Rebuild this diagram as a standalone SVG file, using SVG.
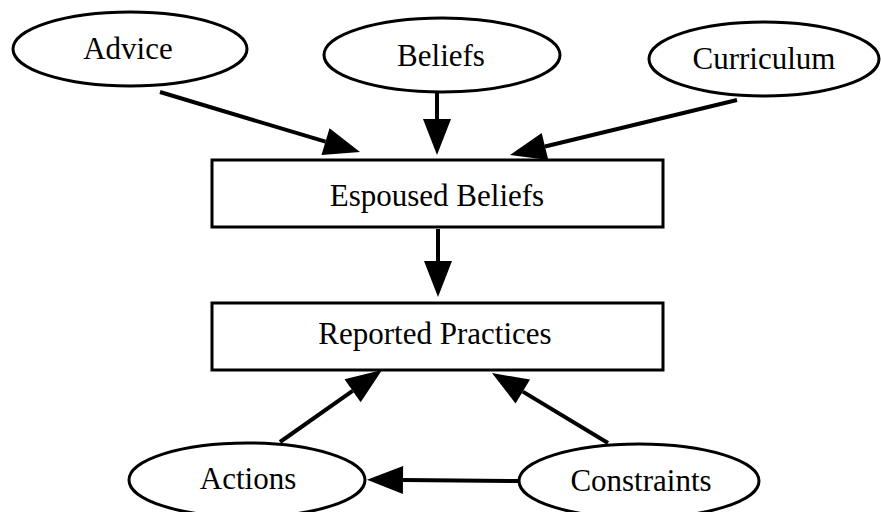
<svg xmlns="http://www.w3.org/2000/svg" width="881" height="512" viewBox="0 0 881 512">
<defs>
<style>
.node{fill:#fff;stroke:#000;stroke-width:3}
.lbl{font-family:"Liberation Serif","Times New Roman",serif;font-size:31px;fill:#000;text-anchor:middle}
.conn{stroke:#000;stroke-width:4;fill:none}
</style>
<marker id="ah" markerUnits="userSpaceOnUse" markerWidth="36" markerHeight="28" refX="0" refY="14" orient="auto" overflow="visible">
<path d="M0,0 L36,14 L0,28 z" fill="#000"/>
</marker>
</defs>
<rect width="881" height="512" fill="#fff"/>
<g id="connectors">
<path class="conn" d="M160,92 L325.5,141.7" marker-end="url(#ah)"/>
<path class="conn" d="M437,93 L437,119" marker-end="url(#ah)"/>
<path class="conn" d="M737,100 L545,146.5" marker-end="url(#ah)"/>
<path class="conn" d="M438,229 L438,261" marker-end="url(#ah)"/>
<path class="conn" d="M280,442 L352.6,390.8" marker-end="url(#ah)"/>
<path class="conn" d="M608,443 L522.8,391.6" marker-end="url(#ah)"/>
<path class="conn" d="M518,481 L403,480" marker-end="url(#ah)"/>
</g>
<g id="advice"><ellipse class="node" cx="130" cy="49" rx="117" ry="37"/><text class="lbl" x="128" y="59">Advice</text></g>
<g id="beliefs"><ellipse class="node" cx="442" cy="55" rx="118" ry="37"/><text class="lbl" x="441" y="66">Beliefs</text></g>
<g id="curriculum"><ellipse class="node" cx="764" cy="59" rx="115" ry="37"/><text class="lbl" x="764" y="69">Curriculum</text></g>
<g id="espoused"><rect class="node" x="212" y="160" width="451" height="67"/><text class="lbl" x="437" y="206">Espoused Beliefs</text></g>
<g id="reported"><rect class="node" x="212" y="303" width="451" height="67"/><text class="lbl" x="435" y="344">Reported Practices</text></g>
<g id="actions"><ellipse class="node" cx="247" cy="480" rx="118" ry="37"/><text class="lbl" x="248" y="489">Actions</text></g>
<g id="constraints"><ellipse class="node" cx="639" cy="481" rx="120" ry="37"/><text class="lbl" x="641" y="491">Constraints</text></g>
</svg>
